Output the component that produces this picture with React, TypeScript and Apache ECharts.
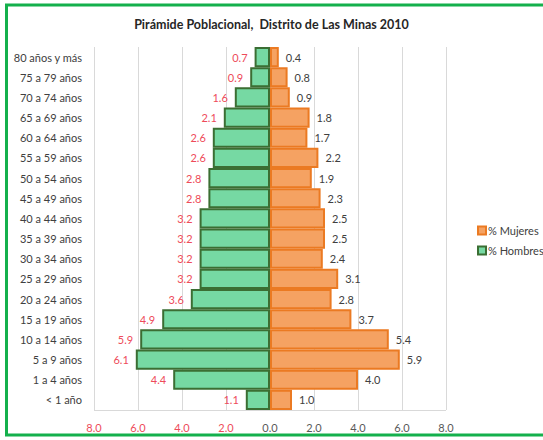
import React, { useEffect, useRef } from "react";
import * as echarts from "echarts";

const categories = [
  "< 1 año", "1 a 4 años", "5 a 9 años", "10 a 14 años", "15 a 19 años",
  "20 a 24 años", "25 a 29 años", "30 a 34 años", "35 a 39 años", "40 a 44 años",
  "45 a 49 años", "50 a 54 años", "55 a 59 años", "60 a 64 años", "65 a 69 años",
  "70 a 74 años", "75 a 79 años", "80 años y más",
];
const hombres = [1.1, 4.4, 6.1, 5.9, 4.9, 3.6, 3.2, 3.2, 3.2, 3.2, 2.8, 2.8, 2.6, 2.6, 2.1, 1.6, 0.9, 0.7];
const mujeres = [1.0, 4.0, 5.9, 5.4, 3.7, 2.8, 3.1, 2.4, 2.5, 2.5, 2.3, 1.9, 2.2, 1.7, 1.8, 0.9, 0.8, 0.4];
const title = "Pirámide Poblacional,  Distrito de Las Minas 2010";

const FONT = "Lato, 'Liberation Sans', sans-serif";
const RED = "#ee4b5a";
const GREY = "#404040";

export default function App() {
  const ref = useRef<HTMLDivElement>(null);
  useEffect(() => {
    if (!ref.current) return;
    const chart = echarts.init(ref.current, null, { renderer: "svg" });
    chart.setOption({
      animation: false,
      backgroundColor: "#ffffff",
      textStyle: { fontFamily: FONT },
      title: {
        text: title,
        left: "center",
        top: 13,
        textStyle: { fontFamily: FONT, fontSize: 12.5, fontWeight: "bold", color: "#262626" },
      },
      legend: {
        orient: "vertical",
        left: 472,
        top: 220,
        itemWidth: 8,
        itemHeight: 8,
        itemGap: 9,
        icon: "rect",
        data: ["% Mujeres", "% Hombres"],
        textStyle: { fontFamily: FONT, fontSize: 11, color: "#404040", padding: [0, 0, 0, -3] },
      },
      grid: { left: 94, right: 97, top: 47, bottom: 30 },
      xAxis: {
        type: "value",
        min: -8,
        max: 8,
        interval: 2,
        axisLine: { show: false },
        axisTick: { show: false },
        splitLine: { show: true, lineStyle: { color: "#d9d9d9", width: 1 } },
        axisLabel: {
          margin: 12,
          fontFamily: FONT,
          fontSize: 11,
          formatter: (v: number) => Math.abs(v).toFixed(1),
          color: (v: any) => (Number(v) < 0 ? RED : "#595959"),
        },
      },
      yAxis: {
        type: "category",
        data: categories,
        axisLine: { show: false },
        axisTick: { show: false },
        splitLine: { show: false },
        axisLabel: { margin: 12, fontFamily: FONT, fontSize: 11, color: GREY },
      },
      graphic: [
        {
          type: "line",
          shape: { x1: 94, y1: 410.5, x2: 446, y2: 410.5 },
          style: { stroke: "#d9d9d9", lineWidth: 1 },
          silent: true,
        },
        {
          type: "rect",
          shape: { x: 6.5, y: 5, width: 560, height: 430 },
          style: { fill: "none", stroke: "#14b04c", lineWidth: 3 },
          silent: true,
          z: 100,
        },
      ],
      series: [
        {
          name: "% Mujeres",
          type: "bar",
          data: mujeres,
          barWidth: "100%",
          barGap: "-100%",
          itemStyle: { color: "#f5a262", borderColor: "#eb7a22", borderWidth: 2 },
          label: {
            show: true,
            position: "right",
            distance: 7,
            fontFamily: FONT,
            fontSize: 11,
            color: GREY,
            formatter: (p: any) => Number(p.value).toFixed(1),
          },
        },
        {
          name: "% Hombres",
          type: "bar",
          data: hombres.map((v) => -v),
          barWidth: "100%",
          barGap: "-100%",
          itemStyle: { color: "#76d9a3", borderColor: "#3b6e33", borderWidth: 2 },
          label: {
            show: true,
            position: "left",
            distance: 7,
            fontFamily: FONT,
            fontSize: 11,
            color: RED,
            formatter: (p: any) => Math.abs(Number(p.value)).toFixed(1),
          },
        },
      ],
    });
    return () => chart.dispose();
  }, []);
  return <div ref={ref} style={{ width: 543, height: 440, position: "absolute", left: 0, top: 0 }} />;
}
